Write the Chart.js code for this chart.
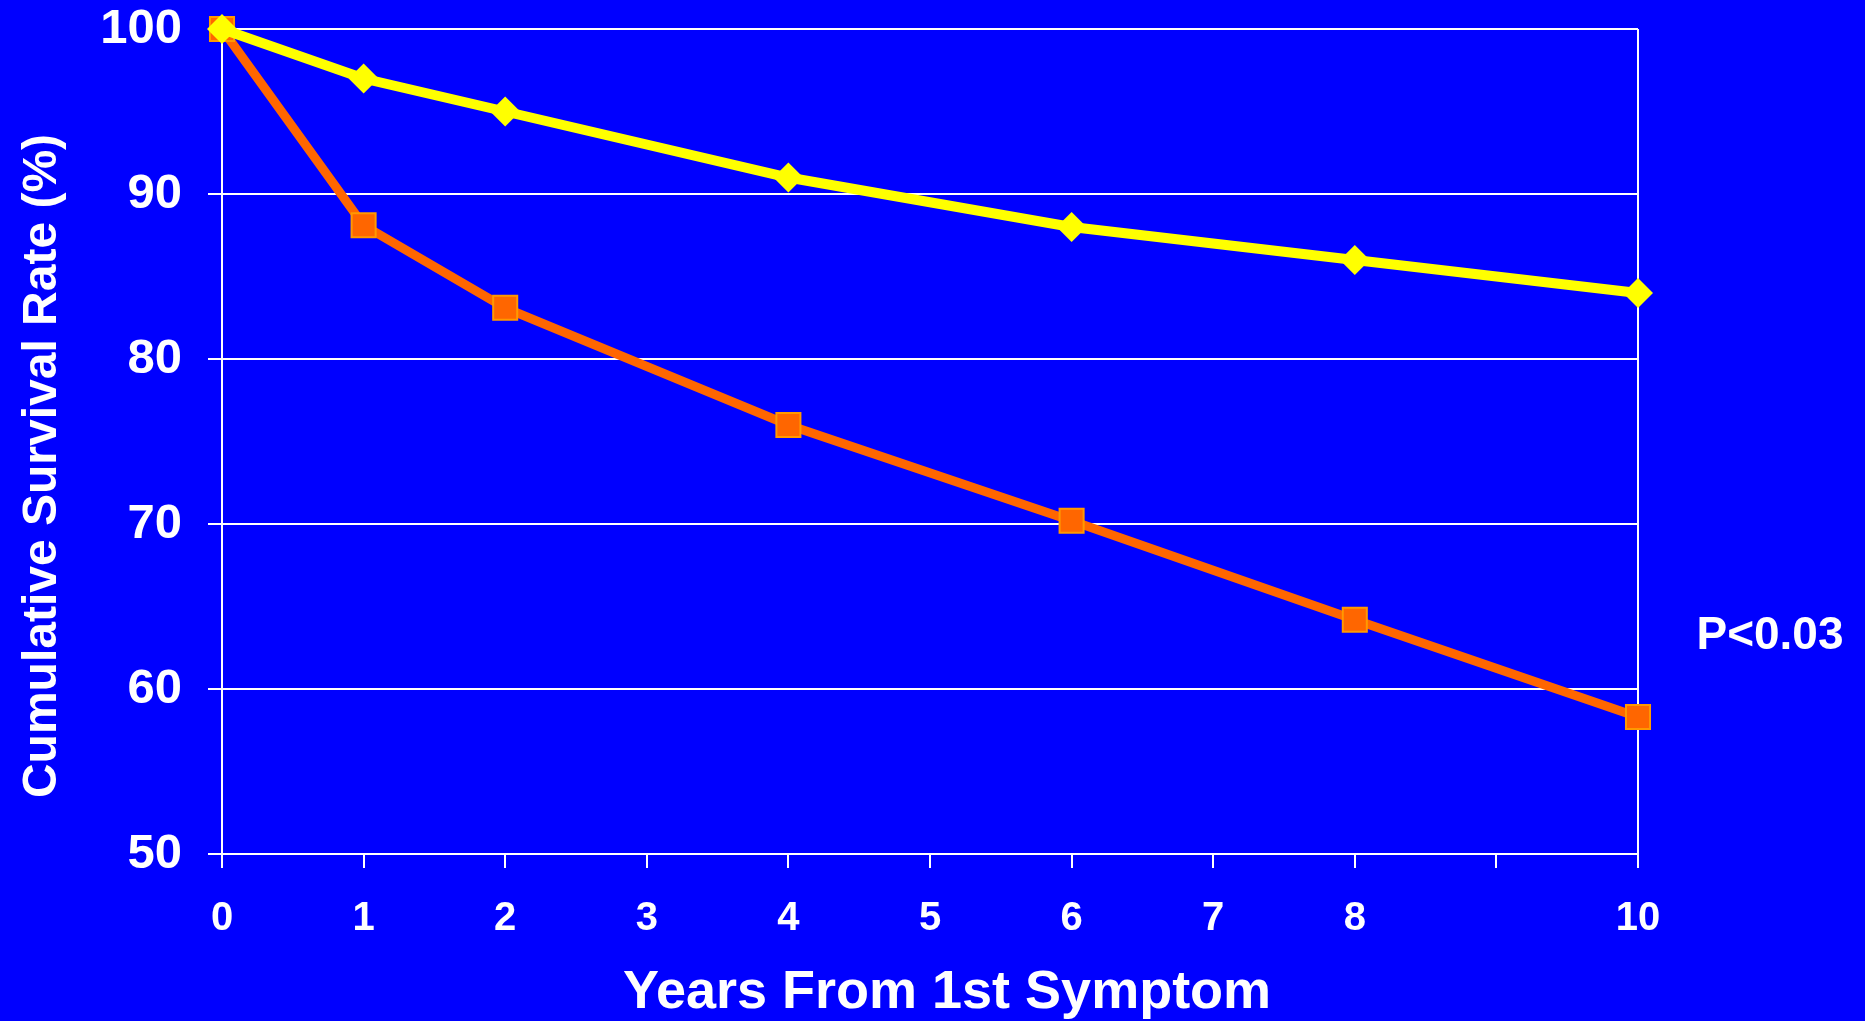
<!DOCTYPE html>
<html lang="en">

<head>
    <meta charset="UTF-8" />
    <title>Cumulative Survival Rate</title>
    <style>
        html, body { margin: 0; padding: 0; background: #0000FF; }
        #wrap { width: 1865px; height: 1021px; }
    </style>
</head>

<body>
    <div id="wrap"><canvas id="myChart"></canvas></div>

    <script src="https://cdn.jsdelivr.net/npm/chart.js@4/dist/chart.umd.min.js"></script>
    <script>
        // data
        var years = [0, 1, 2, 4, 6, 8, 10];
        var yellowRates = [100, 97, 95, 91, 88, 86, 84];
        var orangeRates = [100, 88.1, 83.1, 76, 70.2, 64.2, 58.3];
        var xTicks = [0, 1, 2, 3, 4, 5, 6, 7, 8, 10]; // 9 has a tick mark but no label
        var yTicks = [50, 60, 70, 80, 90, 100];

        function toPoints(xs, ys) {
            var pts = [];
            for (var i = 0; i < xs.length; ++i) {
                pts.push({ x: xs[i], y: ys[i] });
            }
            return pts;
        }

        var font = "'Liberation Sans', Arial, sans-serif";

        // axis titles and the P value, placed like on the slide
        var labels = {
            id: 'labels',
            afterDraw: function (chart) {
                var ctx = chart.ctx;
                ctx.save();
                ctx.fillStyle = '#FFFFFF';
                ctx.textAlign = 'center';
                ctx.textBaseline = 'middle';

                ctx.font = 'bold 46px ' + font;
                ctx.fillText('P<0.03', 1770, 636);

                ctx.font = 'bold 54px ' + font;
                ctx.fillText('Years From 1st Symptom', 947, 993);

                ctx.translate(43, 466);
                ctx.rotate(-Math.PI / 2);
                ctx.font = 'bold 48px ' + font;
                ctx.fillText('Cumulative Survival Rate (%)', 0, 0);
                ctx.restore();
            }
        };

        var ctx = document.getElementById('myChart').getContext('2d');
        var myChart = new Chart(ctx, {
            type: 'line',
            data: {
                datasets: [
                    {
                        label: 'yellow',
                        data: toPoints(years, yellowRates),
                        borderColor: '#FFFF00',
                        backgroundColor: '#FFFF00',
                        borderWidth: 10,
                        pointStyle: 'rectRot',
                        pointRadius: 15,
                        pointBorderWidth: 0,
                        clip: false
                    },
                    {
                        label: 'orange',
                        data: toPoints(years, orangeRates),
                        borderColor: '#FF6600',
                        backgroundColor: '#FF6600',
                        borderWidth: 9,
                        pointStyle: 'rect',
                        pointRadius: 17,
                        pointBorderColor: '#FF9900',
                        pointBorderWidth: 2,
                        clip: false
                    }]
            },
            options: {
                responsive: true,
                maintainAspectRatio: false,
                animation: false,
                layout: { padding: { top: 29, right: 227, left: 0, bottom: 0 } },
                plugins: {
                    legend: { display: false },
                    tooltip: { enabled: false }
                },
                elements: { line: { tension: 0 } },
                scales: {
                    x: {
                        type: 'linear',
                        min: 0,
                        max: 10,
                        afterFit: function (scale) { scale.height = 167; },
                        afterBuildTicks: function (scale) {
                            var t = [];
                            for (var v = 0; v <= 10; v++) t.push({ value: v });
                            scale.ticks = t;
                        },
                        ticks: {
                            color: '#FFFFFF',
                            padding: 27,
                            maxRotation: 0,
                            autoSkip: false,
                            font: { family: font, size: 40, weight: 'bold' },
                            callback: function (v) { return xTicks.indexOf(v) >= 0 ? String(v) : ''; }
                        },
                        grid: {
                            color: function (c) { return c.tick && c.tick.value === 10 ? '#FFFFFF' : 'rgba(0,0,0,0)'; },
                            tickColor: '#FFFFFF',
                            lineWidth: 2,
                            tickLength: 14
                        },
                        border: { color: '#FFFFFF', width: 2 }
                    },
                    y: {
                        min: 50,
                        max: 100,
                        afterFit: function (scale) {
                            scale.width = 222;
                            // keep the tick padding from pushing the plot down
                            scale.paddingTop = 0;
                            scale.paddingBottom = 0;
                        },
                        afterBuildTicks: function (scale) {
                            scale.ticks = yTicks.map(function (v) { return { value: v }; });
                        },
                        ticks: {
                            color: '#FFFFFF',
                            padding: 26,
                            font: { family: font, size: 49, weight: 'bold' }
                        },
                        grid: {
                            color: '#FFFFFF',
                            lineWidth: 2,
                            tickLength: 14
                        },
                        border: { color: '#FFFFFF', width: 2 }
                    }
                }
            },
            plugins: [labels]
        });
    </script>
</body>

</html>
